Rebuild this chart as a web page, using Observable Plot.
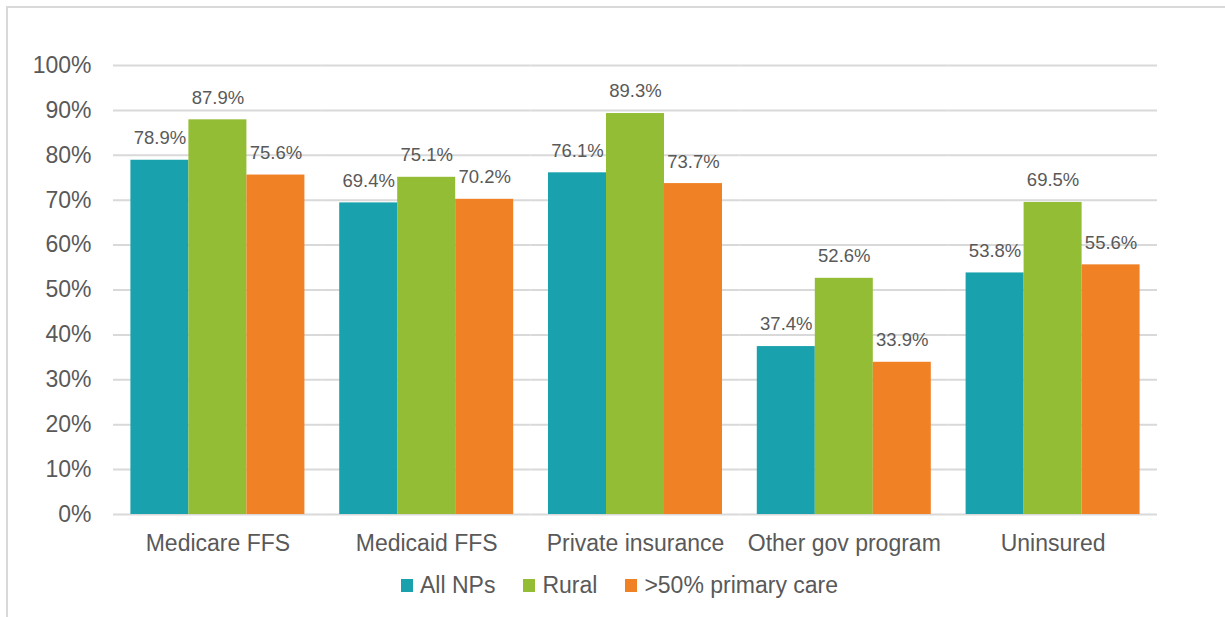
<!DOCTYPE html>
<html>
<head>
<meta charset="utf-8">
<script src="https://cdn.jsdelivr.net/npm/d3@7"></script>
<script src="https://cdn.jsdelivr.net/npm/@observablehq/plot@0.6"></script>
<style>
  html, body { margin: 0; padding: 0; background: #fff; }
  #wrap { position: relative; width: 1225px; height: 617px; overflow: hidden; font-family: "Liberation Sans", Arial, sans-serif; }
  #frame { position: absolute; left: 6px; top: 6px; width: 1400px; height: 800px; border: 2px solid #d9d9d9; box-sizing: border-box; pointer-events: none; }
  #chart { position: absolute; left: 0; top: 0; }
  #legend { position: absolute; left: 401px; top: 572px; display: flex; align-items: center; font-size: 23px; line-height: 26px; color: #595959; white-space: nowrap; }
  .item { display: flex; align-items: center; margin-right: 28px; }
  .sw { width: 12px; height: 13px; margin-right: 7px; }
</style>
</head>
<body>
<div id="wrap">
  <div id="frame"></div>
  <div id="chart"></div>
  <div id="legend"></div>
</div>
<script>
const categories = ["Medicare FFS", "Medicaid FFS", "Private insurance", "Other gov program", "Uninsured"];
const seriesNames = ["All NPs", "Rural", ">50% primary care"];
const allNPs = [78.9, 69.4, 76.1, 37.4, 53.8];
const rural = [87.9, 75.1, 89.3, 52.6, 69.5];
const primaryCare = [75.6, 70.2, 73.7, 33.9, 55.6];
const yTicks = [0, 10, 20, 30, 40, 50, 60, 70, 80, 90, 100];
const colors = ["#19A2AD", "#92BD34", "#F18125"];

const seriesValues = [allNPs, rural, primaryCare];
const data = [];
categories.forEach((c, i) => {
  seriesNames.forEach((s, j) => {
    data.push({category: c, series: s, value: seriesValues[j][i]});
  });
});

const chart = Plot.plot({
  width: 1225,
  height: 565,
  marginLeft: 113,
  marginRight: 68,
  marginTop: 65,
  marginBottom: 51,
  style: {fontFamily: "'Liberation Sans', Arial, sans-serif", fontSize: "23px", color: "#595959", background: "transparent"},
  fx: {domain: categories, paddingInner: 0, paddingOuter: 0, round: false, axis: "bottom", tickSize: 0, tickPadding: 20, label: null},
  x: {domain: seriesNames, paddingInner: 0, paddingOuter: 0.3, round: false, axis: null},
  y: {domain: [0, 100], ticks: yTicks, tickFormat: d => d + "%", tickSize: 0, tickPadding: 22, label: null},
  color: {domain: seriesNames, range: colors},
  marks: [
    Plot.ruleY(yTicks, {stroke: "#d9d9d9", strokeWidth: 2}),
    Plot.barY(data, {fx: "category", x: "series", y: "value", fill: "series"}),
    Plot.text(data, {fx: "category", x: "series", y: "value", text: d => d.value.toFixed(1) + "%", dy: -22, lineAnchor: "middle", fontSize: 18.5, fill: "#595959"})
  ]
});
document.getElementById("chart").appendChild(chart);

const legend = document.getElementById("legend");
seriesNames.forEach((s, i) => {
  const item = document.createElement("div");
  item.className = "item";
  const sw = document.createElement("div");
  sw.className = "sw";
  sw.style.background = colors[i];
  const t = document.createElement("span");
  t.textContent = s;
  item.appendChild(sw);
  item.appendChild(t);
  legend.appendChild(item);
});
</script>
</body>
</html>
